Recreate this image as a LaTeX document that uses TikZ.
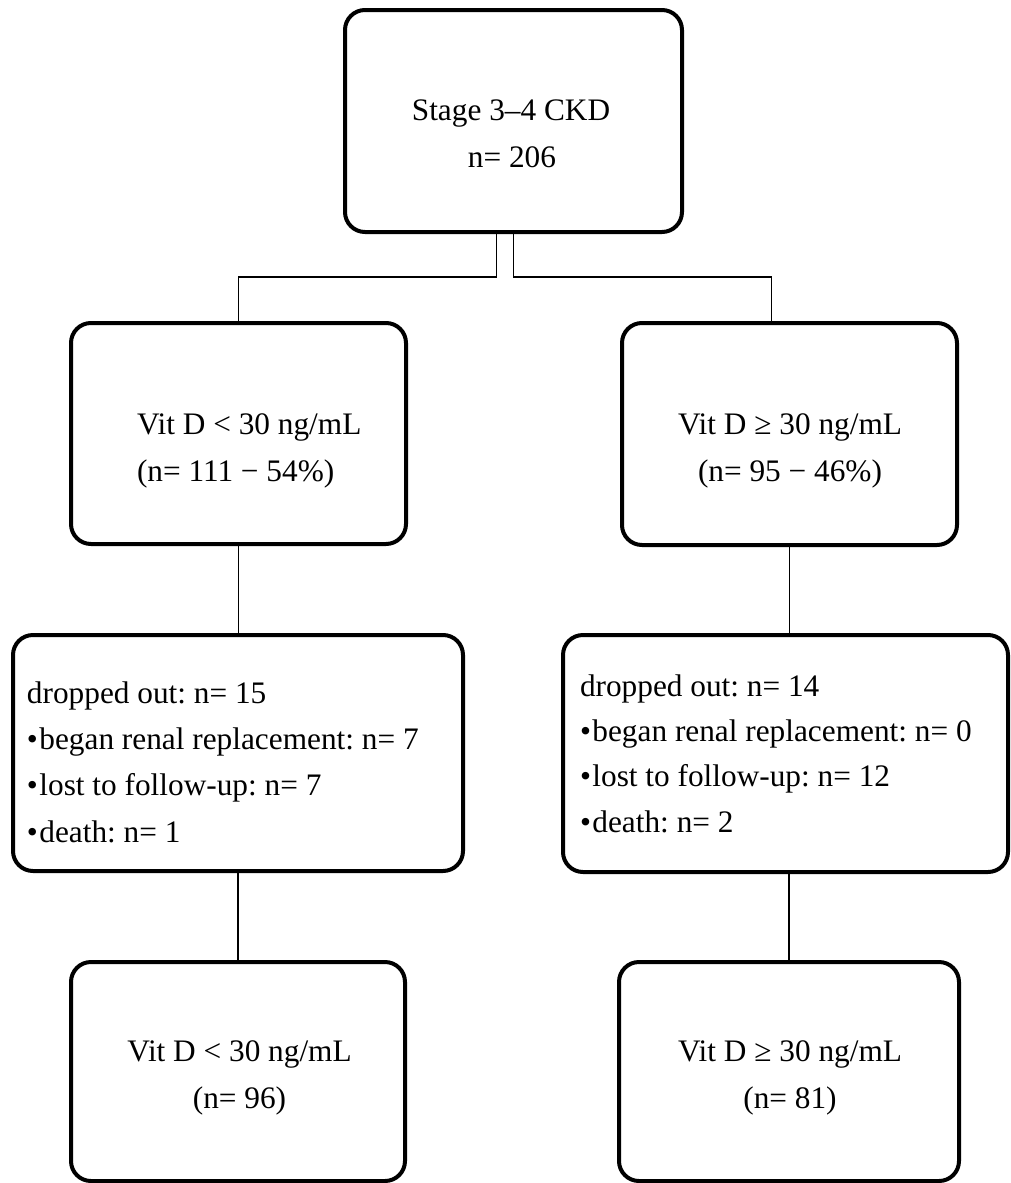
\documentclass[tikz,border=0pt]{standalone}
\usepackage{fontspec}
\setmainfont{Liberation Serif}
\frenchspacing
\newcommand{\bul}{•\hspace{1.5pt}}
\tikzset{
  box/.style={draw=black, line width=4pt, rounded corners=20pt, inner sep=0pt, outer sep=0pt, fill=white},
  conn/.style={draw=black, line width=1.5pt},
  txt/.style={inner sep=0pt, outer sep=0pt, anchor=base, font=\fontsize{31.3pt}{46pt}\selectfont\frenchspacing},
  txtl/.style={txt, anchor=base west}
}
\begin{document}
\begin{tikzpicture}[x=1pt, y=-1pt]
\useasboundingbox (0,0) rectangle (1011,1183);
% boxes
\node[box, minimum width=337pt, minimum height=222pt] (top) at (513.5,121) {};
\node[box, minimum width=335pt, minimum height=221pt] (midL) at (238.5,433.5) {};
\node[box, minimum width=335pt, minimum height=222pt] (midR) at (789.5,434) {};
\node[box, minimum width=450pt, minimum height=236pt] (dropL) at (238,753) {};
\node[box, minimum width=445pt, minimum height=237pt] (dropR) at (785.5,753.5) {};
\node[box, minimum width=334pt, minimum height=219pt] (botL) at (238,1071.5) {};
\node[box, minimum width=340pt, minimum height=219pt] (botR) at (789,1071.5) {};
% connectors
\draw[conn] ([xshift=-17pt]top.south) |- ([yshift=46pt]midL.north) -- (midL.north);
\draw[conn] (top.south) |- ([xshift=-18pt,yshift=46pt]midR.north) -- ([xshift=-18pt]midR.north);
\draw[conn] (midL.south) -- (midL.south |- dropL.north);
\draw[conn] (midR.south) -- (midR.south |- dropR.north);
\draw[conn] (botL.north |- dropL.south) -- (botL.north);
\draw[conn] (botR.north |- dropR.south) -- (botR.north);
% texts
\node[txt] (t1) at (511,120) {Stage 3–4 CKD};
\node[txt] (t2) at (512,167) {n= 206};
\node[txtl] (ml1) at (137,434) {Vit D < 30 ng/mL};
\node[txtl] (ml2) at (137,481) {(n= 111 − 54\%)};
\node[txt] (mr1) at (790,434) {Vit D ≥ 30 ng/mL};
\node[txt] (mr2) at (790,481) {(n= 95 − 46\%)};
\node[txtl] (dl1) at (27,703) {dropped out: n= 15};
\node[txtl] (dl2) at (27,749) {\bul began renal replacement: n= 7};
\node[txtl] (dl3) at (27,795) {\bul lost to follow-up: n= 7};
\node[txtl] (dl4) at (27,842) {\bul death: n= 1};
\node[txtl] (dr1) at (580,696) {dropped out: n= 14};
\node[txtl] (dr2) at (580,741) {\bul began renal replacement: n= 0};
\node[txtl] (dr3) at (580,786) {\bul lost to follow-up: n= 12};
\node[txtl] (dr4) at (580,832) {\bul death: n= 2};
\node[txt] (bl1) at (239.5,1061) {Vit D < 30 ng/mL};
\node[txt] (bl2) at (239.5,1108) {(n= 96)};
\node[txt] (br1) at (790,1061) {Vit D ≥ 30 ng/mL};
\node[txt] (br2) at (790,1108) {(n= 81)};
\end{tikzpicture}
\end{document}
